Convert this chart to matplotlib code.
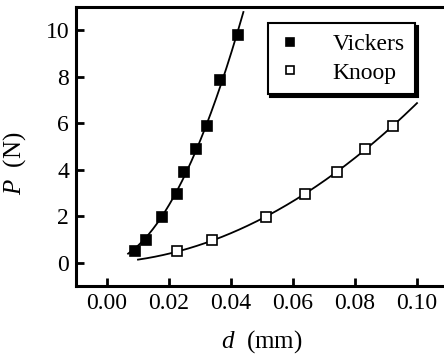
import numpy as np
import matplotlib.pyplot as plt

# indentation data: diagonal d (mm) vs load P (N)
vickers_d = [0.0090, 0.0126, 0.0178, 0.0225, 0.0248, 0.0287, 0.0322, 0.0365, 0.0423]
vickers_P = [0.49, 0.98, 1.96, 2.94, 3.92, 4.90, 5.88, 7.84, 9.80]
knoop_d = [0.0225, 0.0340, 0.0513, 0.0638, 0.0742, 0.0832, 0.0923]
knoop_P = [0.49, 0.98, 1.96, 2.94, 3.92, 4.90, 5.88]

xticks = [0.00, 0.02, 0.04, 0.06, 0.08, 0.10]
yticks = [0, 2, 4, 6, 8, 10]


def fit_curve(d, P, d0, d1):
    # P = a*d + b*d^2 least squares
    d = np.asarray(d); P = np.asarray(P)
    A = np.column_stack([d, d ** 2])
    coef, *_ = np.linalg.lstsq(A, P, rcond=None)
    x = np.linspace(d0, d1, 200)
    return x, coef[0] * x + coef[1] * x ** 2


plt.rcParams['font.family'] = ['Liberation Serif', 'DejaVu Serif']
plt.rcParams['mathtext.fontset'] = 'custom'
plt.rcParams['mathtext.it'] = 'Liberation Serif:italic'
plt.rcParams['mathtext.rm'] = 'Liberation Serif'

fig = plt.figure(figsize=(4.44, 3.57), dpi=100)
ax = fig.add_axes([76 / 444, 71 / 357, 372 / 444, 279 / 357])

xv, yv = fit_curve(vickers_d, vickers_P, 0.0068, 0.0440)
xk, yk = fit_curve(knoop_d, knoop_P, 0.010, 0.100)
ax.plot(xv, yv, color='black', lw=1.3)
ax.plot(xk, yk, color='black', lw=1.3)

ax.plot(vickers_d, vickers_P, 's', ms=7, mfc='black', mec='black', mew=1.2, ls='none', label='Vickers')
ax.plot(knoop_d, knoop_P, 's', ms=7, mfc='white', mec='black', mew=1.2, ls='none', label='Knoop')

ax.set_xlim(-0.01, 0.11)
ax.set_ylim(-1, 11)
ax.set_xticks(xticks)
ax.set_xticklabels([f"{v:.2f}" for v in xticks])
ax.set_yticks(yticks)
ax.tick_params(direction='in', length=6, width=2, labelsize=17, pad=5)
for s in ax.spines.values():
    s.set_linewidth(2.2)

ax.set_xlabel(r'$d$  (mm)', fontsize=18, labelpad=10)
ax.set_ylabel(r'$P$  (N)', fontsize=18)
ax.yaxis.set_label_coords(-0.128, 0.44)

leg = ax.legend(loc='upper left', bbox_to_anchor=(0.515, 0.943), fontsize=17, frameon=True,
                fancybox=False, shadow={'color': 'black', 'alpha': 1}, handlelength=1.0,
                handletextpad=1.3, borderpad=0.45, labelspacing=0.3, borderaxespad=0,
                markerscale=0.8)
leg.get_frame().set_edgecolor('black')
leg.get_frame().set_linewidth(1.5)

fig.savefig('out.png', dpi=100)
